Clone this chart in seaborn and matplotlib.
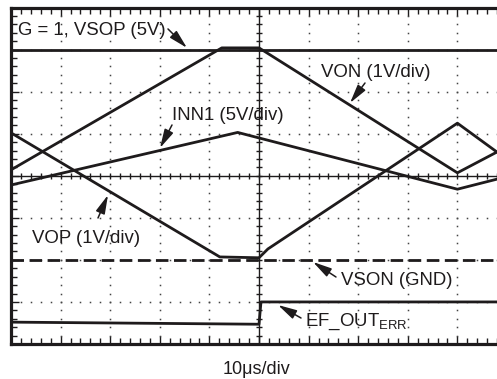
import numpy as np
import pandas as pd
import matplotlib
matplotlib.use("Agg")
import matplotlib.pyplot as plt
import seaborn as sns

sns.set_style("white")
plt.rcParams["font.family"] = ["Liberation Sans", "DejaVu Sans"]
plt.rcParams["mathtext.fontset"] = "custom"
plt.rcParams["mathtext.rm"] = "Liberation Sans"
plt.rcParams["mathtext.it"] = "Liberation Sans:italic"

INK = "#1e1b1c"

# Scope traces: horizontal position and level, both in screen divisions
# (10 us per horizontal division)
vsop_t = [0.0, 10.0]
vsop_v = [7.0, 7.0]

von_t = [0.0, 4.25, 5.0, 9.0, 10.0]
von_v = [4.14, 7.04, 7.04, 4.07, 4.69]

vop_t = [0.0, 4.21, 5.0, 5.18, 9.0, 10.0]
vop_v = [5.02, 2.07, 2.05, 2.26, 5.25, 4.39]

inn1_t = [0.0, 4.57, 9.0, 10.0]
inn1_v = [3.78, 5.03, 3.68, 3.98]

vson_t = [0.0, 10.0]
vson_v = [2.0, 2.0]

ef_t = [0.0, 5.0, 5.04, 10.0]
ef_v = [0.52, 0.47, 1.0, 1.0]

fig = plt.figure(figsize=(4.97, 3.79), dpi=100)
ax = fig.add_axes([11 / 497, 35 / 379, 496 / 497, 336.5 / 379])
ax.set_xlim(0, 10)
ax.set_ylim(0, 8)

# dotted graticule
dots_v = np.arange(0.2, 8.0, 0.2)
dots_h = np.arange(0.2, 10.0, 0.2)
for gx in [1, 2, 3, 4, 6, 7, 8, 9]:
    ax.plot(np.full_like(dots_v, gx), dots_v, ls="none", marker="s",
            ms=1.1, color="#444444", mew=0, zorder=1)
for gy in [1, 2, 3, 5, 6, 7]:
    ax.plot(dots_h, np.full_like(dots_h, gy), ls="none", marker="s",
            ms=1.1, color="#444444", mew=0, zorder=1)

# centre cross with minor ticks
ax.axvline(5, color=INK, lw=1.0, zorder=1)
ax.axhline(4, color=INK, lw=1.0, zorder=1)
ax.plot(dots_h, np.full_like(dots_h, 4), ls="none", marker="|", ms=4.5,
        mew=1.0, color=INK, zorder=1)
ax.plot(np.full_like(dots_v, 5), dots_v, ls="none", marker="_", ms=4.5,
        mew=1.0, color=INK, zorder=1)

traces = [
    (vsop_t, vsop_v),
    (von_t, von_v),
    (vop_t, vop_v),
    (inn1_t, inn1_v),
    (ef_t, ef_v),
]
for t, v in traces:
    sns.lineplot(x=t, y=v, ax=ax, sort=False, estimator=None,
                 color=INK, lw=2.0, zorder=3)
sns.lineplot(x=vson_t, y=vson_v, ax=ax, sort=False, estimator=None,
             color=INK, lw=2.0, zorder=3, dashes=(4.5, 2.0))

# frame and border ticks
for sp in ax.spines.values():
    sp.set_linewidth(2.3)
    sp.set_color(INK)
ax.set_xticks(np.arange(0, 11, 1))
ax.set_yticks(np.arange(0, 9, 1))
ax.set_xticks(np.arange(0, 10.01, 0.2), minor=True)
ax.set_yticks(np.arange(0, 8.01, 0.2), minor=True)
ax.tick_params(which="both", direction="in", top=True, bottom=True,
               left=True, right=True, labelbottom=False, labelleft=False,
               color=INK, width=1.0)
ax.tick_params(which="major", length=6)
ax.tick_params(which="minor", length=4)
ax.set_xlabel("")
ax.set_ylabel("")

fs = 13.4
labels = [
    ("G = 1, VSOP (5V)", 0.141, 7.347),
    ("INN1 (5V/div)", 3.246, 5.326),
    ("VON (1V/div)", 6.25, 6.348),
    ("VOP (1V/div)", 0.423, 2.401),
    ("VSON (GND)", 6.653, 1.403),
    (r"EF_OUT$_{\mathrm{ERR}}$", 5.927, 0.428),
]
for s, x, y in labels:
    ax.text(x, y, s, fontsize=fs, color=INK, ha="left", va="baseline", zorder=4)

arrows = [
    ((3.165, 7.49), (3.548, 7.04)),
    ((3.246, 5.207), (3.004, 4.66)),
    ((7.137, 6.205), (6.835, 5.73)),
    ((1.754, 2.996), (1.956, 3.543)),
    ((6.552, 1.593), (6.089, 1.95)),
    ((5.847, 0.618), (5.383, 0.927)),
]
for tail, tip in arrows:
    ax.annotate("", xy=tip, xytext=tail,
                arrowprops=dict(arrowstyle="-|>,head_length=0.95,head_width=0.24",
                                color=INK, lw=1.1, shrinkA=0, shrinkB=0,
                                mutation_scale=12), zorder=4)

fig.text(256 / 497, 5 / 379, "10μs/div", fontsize=13, color=INK,
         ha="center", va="baseline")

fig.savefig("out.png", dpi=100)
